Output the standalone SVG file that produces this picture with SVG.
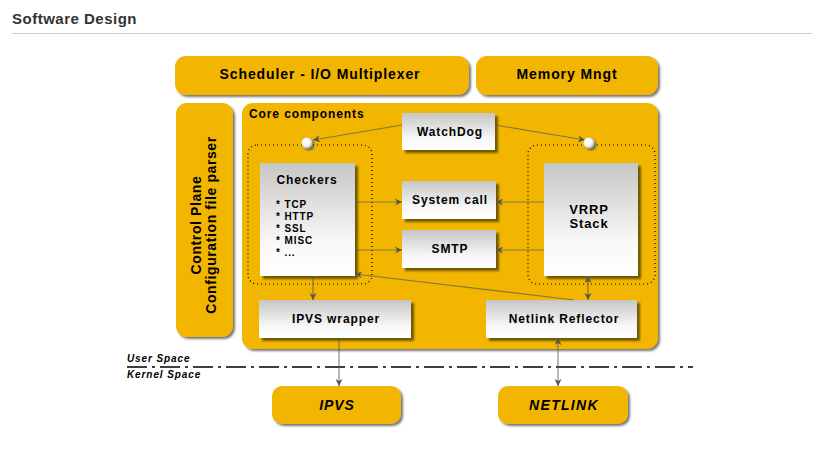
<svg xmlns="http://www.w3.org/2000/svg" width="838" height="450" viewBox="0 0 838 450">
<style>
  .t { font-family: "Liberation Sans", Arial, sans-serif; font-weight: bold; fill: #000; letter-spacing: 0.9px; }
  .y { fill: #f2b600; filter: url(#shY); }
  .w { fill: url(#gW); filter: url(#shW); }
  .dot { fill: none; stroke: #000; stroke-width: 1.2; stroke-dasharray: 1 3; }
  .c { stroke: #5a5a5a; stroke-opacity: 0.7; stroke-width: 1.2; fill: none; }
</style>
<defs>
  <linearGradient id="gW" x1="0" y1="0" x2="0" y2="1">
    <stop offset="0" stop-color="#c6c6c6"/>
    <stop offset="0.7" stop-color="#f8f8f8"/>
    <stop offset="1" stop-color="#ffffff"/>
  </linearGradient>
  <radialGradient id="gC" cx="0.4" cy="0.4" r="0.6">
    <stop offset="0" stop-color="#ffffff"/>
    <stop offset="0.6" stop-color="#f4f4f4"/>
    <stop offset="1" stop-color="#b0b0b0"/>
  </radialGradient>
  <filter id="shY" x="-10%" y="-10%" width="125%" height="125%">
    <feDropShadow dx="2" dy="2" stdDeviation="1" flood-color="#555" flood-opacity="0.8"/>
  </filter>
  <filter id="shW" x="-10%" y="-10%" width="125%" height="125%">
    <feDropShadow dx="3" dy="3" stdDeviation="0.8" flood-color="#5a4800" flood-opacity="0.85"/>
  </filter>
  <marker id="ah" viewBox="0 0 10 10" refX="10" refY="5" markerWidth="7" markerHeight="7" markerUnits="userSpaceOnUse" orient="auto-start-reverse">
    <path d="M0,0 L10,5 L0,10 L3,5 Z" fill="#555"/>
  </marker>
</defs>

<rect width="838" height="450" fill="#ffffff"/>

<g id="title">
  <text x="12" y="24" style="font-family:'Liberation Sans',Arial,sans-serif;font-weight:bold;font-size:15px;fill:#333;letter-spacing:0.5px">Software Design</text>
  <line x1="12" y1="33.5" x2="812" y2="33.5" stroke="#cccccc" stroke-width="1"/>
</g>

<g id="scheduler">
  <rect class="y" x="175" y="56" width="294" height="39" rx="11"/>
  <text class="t" x="320" y="79" font-size="14" text-anchor="middle">Scheduler - I/O Multiplexer</text>
</g>
<g id="memory">
  <rect class="y" x="476" y="56" width="182" height="39" rx="11"/>
  <text class="t" x="567" y="79" font-size="14" text-anchor="middle">Memory Mngt</text>
</g>
<g id="control-plane">
  <rect class="y" x="176" y="103" width="57" height="234" rx="11"/>
  <text class="t" font-size="14" text-anchor="middle" style="letter-spacing:0.6px" transform="translate(201 225) rotate(-90)">Control Plane</text>
  <text class="t" font-size="14" text-anchor="middle" style="letter-spacing:0.6px" transform="translate(216 225) rotate(-90)">Configuration file parser</text>
</g>
<g id="core">
  <rect class="y" x="242" y="103" width="416" height="246" rx="11"/>
  <text class="t" x="249" y="118" font-size="12">Core components</text>
</g>

<g id="checkers-group">
  <rect class="dot" x="248" y="145" width="124" height="139" rx="9"/>
</g>
<g id="vrrp-group">
  <rect class="dot" x="528" y="145" width="127" height="139" rx="9"/>
</g>

<g id="watchdog">
  <rect class="w" x="402" y="113" width="93" height="37"/>
  <text class="t" x="450" y="136" font-size="12" text-anchor="middle">WatchDog</text>
</g>
<g id="checkers">
  <rect class="w" x="260" y="163" width="95" height="113"/>
  <text class="t" x="307" y="184" font-size="12" text-anchor="middle">Checkers</text>
  <text class="t" x="276" y="208" font-size="10">* TCP</text>
  <text class="t" x="276" y="220" font-size="10">* HTTP</text>
  <text class="t" x="276" y="232" font-size="10">* SSL</text>
  <text class="t" x="276" y="244" font-size="10">* MISC</text>
  <text class="t" x="276" y="256" font-size="10">* ...</text>
</g>
<g id="system-call">
  <rect class="w" x="402" y="181" width="94" height="38"/>
  <text class="t" x="450" y="204" font-size="12" text-anchor="middle">System call</text>
</g>
<g id="smtp">
  <rect class="w" x="402" y="230" width="94" height="38"/>
  <text class="t" x="450" y="253" font-size="12" text-anchor="middle">SMTP</text>
</g>
<g id="vrrp">
  <rect class="w" x="544" y="163" width="94" height="113"/>
  <text class="t" x="589" y="214" font-size="13" text-anchor="middle">VRRP</text>
  <text class="t" x="589" y="228" font-size="13" text-anchor="middle">Stack</text>
</g>
<g id="ipvs-wrapper">
  <rect class="w" x="259" y="300" width="152" height="38"/>
  <text class="t" x="336" y="323" font-size="12" text-anchor="middle">IPVS wrapper</text>
</g>
<g id="netlink-reflector">
  <rect class="w" x="486" y="300" width="151" height="38"/>
  <text class="t" x="564" y="323" font-size="12" text-anchor="middle">Netlink Reflector</text>
</g>

<g id="ipvs">
  <rect class="y" x="272" y="386" width="129" height="38" rx="10"/>
  <text class="t" x="337" y="410" font-size="14" font-style="italic" text-anchor="middle">IPVS</text>
</g>
<g id="netlink">
  <rect class="y" x="498" y="386" width="130" height="38" rx="10"/>
  <text class="t" x="564" y="410" font-size="14" font-style="italic" text-anchor="middle" style="letter-spacing:1.3px">NETLINK</text>
</g>

<g id="space-boundary">
  <text class="t" x="127" y="362" font-size="10" font-style="italic">User Space</text>
  <text class="t" x="127" y="378" font-size="10" font-style="italic">Kernel Space</text>
  <line x1="127" y1="367" x2="693" y2="367" stroke="#000" stroke-width="1.5" stroke-dasharray="20 5 3 5"/>
</g>

<g id="connectors">
  <line class="c" x1="402" y1="125" x2="313" y2="140" marker-end="url(#ah)"/>
  <line class="c" x1="495" y1="125" x2="585" y2="140" marker-end="url(#ah)"/>
  <line class="c" x1="355" y1="202" x2="402" y2="202" marker-end="url(#ah)"/>
  <line class="c" x1="355" y1="250" x2="402" y2="250" marker-end="url(#ah)"/>
  <line class="c" x1="544" y1="202" x2="496" y2="202" marker-end="url(#ah)"/>
  <line class="c" x1="544" y1="250" x2="496" y2="250" marker-end="url(#ah)"/>
  <line class="c" x1="574" y1="300" x2="355" y2="274" marker-end="url(#ah)"/>
  <line class="c" x1="313" y1="276" x2="313" y2="300" marker-end="url(#ah)"/>
  <line class="c" x1="588" y1="276" x2="588" y2="300" marker-start="url(#ah)" marker-end="url(#ah)"/>
  <line class="c" x1="339" y1="338" x2="339" y2="386" marker-end="url(#ah)"/>
  <line class="c" x1="558" y1="338" x2="558" y2="386" marker-start="url(#ah)" marker-end="url(#ah)"/>
</g>

<g id="ports">
  <circle cx="307" cy="143" r="5.5" fill="url(#gC)" filter="url(#shY)"/>
  <circle cx="589" cy="143" r="5.5" fill="url(#gC)" filter="url(#shY)"/>
</g>
</svg>
